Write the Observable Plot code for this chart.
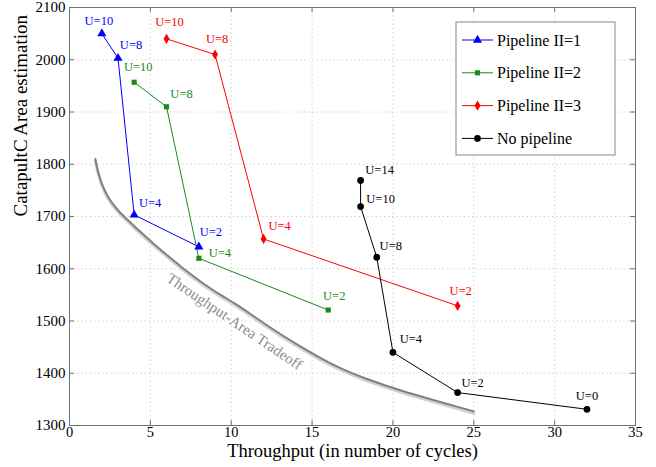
<!DOCTYPE html>
<html><head><meta charset="utf-8">
<script src="https://cdn.jsdelivr.net/npm/d3@7"></script>
<script src="https://cdn.jsdelivr.net/npm/@observablehq/plot@0.6"></script>
<style>
body{margin:0;background:#fff}
svg{font-family:"Liberation Serif","Times New Roman",serif}
</style>
</head><body><div id="chart"></div>
<script>
// ---- data ----
const seriesNames = ["Pipeline II=1","Pipeline II=2","Pipeline II=3","No pipeline"];
const seriesColors = ["#0000ff","#1a8a1a","#ff0000","#000000"];
const seriesSymbols = ["triangle","square","diamond","circle"];

const throughputII1 = [2,3,4,8];
const areaII1 = [2050,2003,1703,1642];
const unrollII1 = [10,8,4,2];

const throughputII2 = [4,6,8,16];
const areaII2 = [1957,1910,1620,1521];
const unrollII2 = [10,8,4,2];

const throughputII3 = [6,9,12,24];
const areaII3 = [2040,2010,1657,1529];
const unrollII3 = [10,8,4,2];

const throughputNoPipe = [18,18,19,20,24,32];
const areaNoPipe = [1769,1719,1622,1440,1363,1331];
const unrollNoPipe = [14,10,8,4,2,0];

const tradeoffThroughput = [1.6,1.75,2.0,2.4,3.0,3.65,4.3,5.2,6.0,6.9,7.7,8.5,9.5,10.5,12.3,14.3,16.4,18.4,20.5,22.6,25.0];
const tradeoffArea = [1810,1788,1763,1737,1712,1692,1673,1648,1627,1604,1585,1567,1547,1528,1490,1451,1415,1389,1367,1348,1327];
const tradeoffLabel = "Throughput-Area Tradeoff";
const tradeoffLabelAt = {x: 10.2, y: 1499};

const xTicks = [0,5,10,15,20,25,30,35];
const yTicks = [1300,1400,1500,1600,1700,1800,1900,2000,2100];
const xLabel = "Throughput (in number of cycles)";
const yLabel = "CatapultC Area estimation";

// label nudges (pixels) per series / point
const labelNudge = [
  [[-3,-13],[13,-13],[16,-12],[12,-15]],
  [[4,-15],[15,-13],[21,-5],[6,-14]],
  [[3,-17],[2,-16],[16,-13],[3,-15]],
  [[19,-10],[20,-8],[14,-11],[18,-13],[15,-10],[0,-13]]
];
const markerR = [3.4, 2.9, 3.1, 3.4];

// ---- build table ----
const seriesData = [
  [throughputII1, areaII1, unrollII1],
  [throughputII2, areaII2, unrollII2],
  [throughputII3, areaII3, unrollII3],
  [throughputNoPipe, areaNoPipe, unrollNoPipe]
];
const rows = [];
seriesData.forEach(([xs, ys, us], s) => xs.forEach((x, i) =>
  rows.push({series: seriesNames[s], s, i, x, y: ys[i], label: "U=" + us[i]})));
const tradeoff = tradeoffThroughput.map((x, i) => ({x, y: tradeoffArea[i]}));

const W = 656, H = 467, mL = 69, mR = 21, mT = 7, mB = 42;
const pw = W - mL - mR, ph = H - mT - mB;
const grid = {strokeDasharray: "1.2,3", stroke: "#c8c8c8", strokeOpacity: 1};
const serif = '"Liberation Serif","Times New Roman",serif';

const marks = [
  Plot.gridX(xTicks.slice(1, -1), grid),
  Plot.gridY(yTicks.slice(1, -1), grid),
  // tradeoff curve with shadow
  Plot.line(tradeoff, {x: "x", y: "y", curve: "natural", stroke: "#d2d2d2", strokeWidth: 3, dy: 1.8}),
  Plot.line(tradeoff, {x: "x", y: "y", curve: "natural", stroke: "#808080", strokeWidth: 2}),
  Plot.text([tradeoffLabelAt], {x: "x", y: "y", text: () => tradeoffLabel, rotate: 34, fontSize: 15, fill: "#8c8c8c", fontFamily: serif}),
  Plot.line(rows, {x: "x", y: "y", z: "series", stroke: "series", strokeWidth: 1}),
  ...seriesNames.map((name, s) => Plot.dot(rows.filter(d => d.s === s),
    {x: "x", y: "y", symbol: "series", fill: "series", stroke: "none", r: markerR[s]})),
  ...rows.map(d => Plot.text([d], {x: "x", y: "y", text: "label", fill: seriesColors[d.s], fontFamily: serif,
    fontSize: 12.5, dx: labelNudge[d.s][d.i][0], dy: labelNudge[d.s][d.i][1]})),
  Plot.frame({stroke: "#707070"}),
  // inward ticks on all four sides
  Plot.tickX(xTicks, {x: d => d, insetTop: ph - 5, stroke: "#707070"}),
  Plot.tickX(xTicks, {x: d => d, insetBottom: ph - 5, stroke: "#707070"}),
  Plot.tickY(yTicks, {y: d => d, insetRight: pw - 5, stroke: "#707070"}),
  Plot.tickY(yTicks, {y: d => d, insetLeft: pw - 5, stroke: "#707070"}),
  Plot.axisX(xTicks, {tickSize: 0, tickPadding: 1, fontSize: 14.5, label: null, fill: "#000", tickFormat: d => String(d), fontFamily: serif}),
  Plot.axisY(yTicks, {tickSize: 0, tickPadding: 4, fontSize: 15, label: null, fill: "#000", tickFormat: d => String(d), fontFamily: serif}),
  Plot.text([xLabel], {frameAnchor: "bottom", dy: 31, text: d => d, fontSize: 18.5, fill: "#000", fontFamily: serif}),
  Plot.text([yLabel], {frameAnchor: "left", dx: -49, rotate: -90, text: d => d, fontSize: 19, fill: "#000", fontFamily: serif})
];

const chart = Plot.plot({
  width: W, height: H,
  marginLeft: mL, marginRight: mR, marginTop: mT, marginBottom: mB,
  style: {fontFamily: serif, background: "#fff"},
  x: {domain: [0, 35]},
  y: {domain: [1300, 2100]},
  color: {domain: seriesNames, range: seriesColors},
  symbol: {domain: seriesNames, range: seriesSymbols},
  marks
});
document.getElementById("chart").appendChild(chart);

// ---- legend ----
const symMap = {triangle: d3.symbolTriangle, square: d3.symbolSquare, diamond: d3.symbolDiamond, circle: d3.symbolCircle};
const lg = d3.select(chart).append("g").attr("transform", "translate(456,22)");
lg.append("rect").attr("width", 159).attr("height", 133).attr("fill", "#fff").attr("stroke", "#888");
seriesNames.forEach((name, i) => {
  const yy = 18 + i * 32.8;
  const g = lg.append("g").attr("transform", `translate(0,${yy})`);
  g.append("line").attr("x1", 6).attr("x2", 37).attr("y1", 0).attr("y2", 0)
    .attr("stroke", seriesColors[i]).attr("stroke-width", 1);
  g.append("path").attr("transform", "translate(21.5,0)")
    .attr("d", d3.symbol(symMap[seriesSymbols[i]], markerR[i] * markerR[i] * Math.PI)())
    .attr("fill", seriesColors[i]);
  g.append("text").attr("x", 41).attr("y", 0).attr("dy", "0.35em")
    .attr("text-anchor", "start").attr("font-family", serif)
    .attr("font-size", 16).attr("fill", "#000").text(name);
});
</script>
</body></html>
